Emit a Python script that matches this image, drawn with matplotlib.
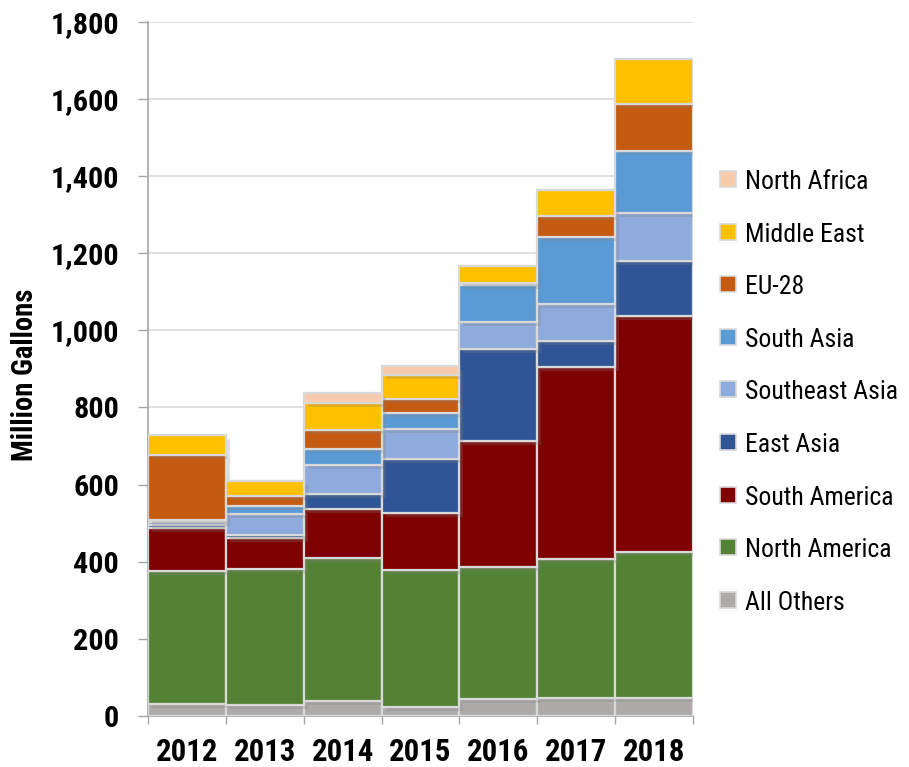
import numpy as np
import matplotlib
matplotlib.use('Agg')
import matplotlib.pyplot as plt
import matplotlib.patheffects as pe
from matplotlib import font_manager
from matplotlib.font_manager import FontProperties
from matplotlib.patches import Rectangle
from matplotlib.textpath import TextPath

years = ['2012', '2013', '2014', '2015', '2016', '2017', '2018']

# stacked from the bottom up (million gallons)
all_others = [32, 28, 39, 23, 44, 47, 46]
north_america = [344, 353, 371, 356, 342, 360, 379]
south_america = [112, 80, 127, 148, 327, 498, 612]
east_asia = [7, 8, 39, 139, 239, 68, 143]
southeast_asia = [8, 54, 75, 78, 70, 95, 124]
south_asia = [4, 22, 41, 42, 96, 174, 161]
eu_28 = [170, 26, 50, 36, 5, 55, 122]
middle_east = [52, 38, 70, 62, 44, 67, 117]
north_africa = [0, 0, 26, 24, 0, 0, 0]

series_names = ['All Others', 'North America', 'South America', 'East Asia',
                'Southeast Asia', 'South Asia', 'EU-28', 'Middle East', 'North Africa']
series_colors = ['#aeaaaa', '#548235', '#7f0000', '#2f5597',
                 '#8faadc', '#5b9bd5', '#c55a11', '#ffc000', '#f8cbad']

W, H, DPI = 909, 767, 100


def pick_narrow_font():
    names = {f.name for f in font_manager.fontManager.ttflist}
    for cand in ['Liberation Sans Narrow', 'Roboto Condensed', 'Open Sans Condensed',
                 'Noto Sans Condensed', 'DejaVu Sans Condensed', 'Roboto', 'Lato']:
        if cand in names:
            return cand
    return 'DejaVu Sans'


def fit_size(text, family, weight, target_px, base=20.0):
    # font size that makes `text` about target_px wide
    tp = TextPath((0, 0), text, size=base, prop=FontProperties(family=family, weight=weight))
    width_px = tp.get_extents().width * DPI / 72.0
    return base * target_px / width_px


def plot_stack(ax):
    series = [all_others, north_america, south_america, east_asia, southeast_asia,
              south_asia, eu_28, middle_east, north_africa]
    x = np.arange(len(years))
    bottom = np.zeros(len(years))
    shadow = [pe.SimplePatchShadow(offset=(3, -3), shadow_rgbFace='#808080', alpha=0.25),
              pe.Normal()]
    for vals, name, col in zip(series, series_names, series_colors):
        vals = np.array(vals, dtype=float)
        bars = ax.bar(x, vals, bottom=bottom, width=1.0, color=col, edgecolor='#d9d9d9',
                      linewidth=1.6, label=name, zorder=3)
        for b in bars:
            b.set_path_effects(shadow)
        bottom += vals
    return x


def style_axes(ax, x, narrow):
    ax.set_xlim(-0.5, len(years) - 0.5)
    ax.set_ylim(0, 1800)
    ys_tick = fit_size('1,000', narrow, 'bold', 65)
    ax.set_yticks(range(0, 1801, 200))
    ax.set_yticklabels([f'{v:,}' for v in range(0, 1801, 200)],
                       fontsize=ys_tick, fontweight='bold', family=narrow)
    xs = fit_size('2012', narrow, 'bold', 60)
    ax.set_xticks(x)
    ax.set_xticklabels(years, fontsize=xs, fontweight='bold', family=narrow)
    ax.set_xticks(np.arange(-0.5, len(years)), minor=True)
    ax.tick_params(axis='x', which='major', length=0, pad=15)
    ax.tick_params(axis='x', which='minor', length=6, color='#a6a6a6', width=1)
    ax.tick_params(axis='y', length=7, color='#a6a6a6', width=1, pad=14)
    ax.grid(axis='y', color='#dcdcdc', linewidth=1.2, zorder=0)
    ax.set_axisbelow(True)
    for s in ['top', 'right']:
        ax.spines[s].set_visible(False)
    for s in ['left', 'bottom']:
        ax.spines[s].set_color('#a6a6a6')
        ax.spines[s].set_linewidth(1.2)
    ys = fit_size('Million Gallons', narrow, 'bold', 170)
    ax.set_ylabel('Million Gallons', fontsize=ys, fontweight='bold', family=narrow)
    ax.yaxis.label.set_va('center')
    ax.yaxis.set_label_coords(-0.2257, 0.491)


def add_legend(fig, narrow):
    fs = fit_size('Southeast Asia', narrow, 'normal', 151)
    items = list(zip(series_names, series_colors))[::-1]
    for i, (name, col) in enumerate(items):
        base_y = 189 + i * 52.6
        fig.add_artist(Rectangle((720 / W, 1 - (base_y - 2) / H), 16 / W, 16 / H,
                                 transform=fig.transFigure, facecolor=col,
                                 edgecolor='#d9d9d9', linewidth=1.2))
        fig.text(745 / W, 1 - base_y / H, name, fontsize=fs, family=narrow,
                 ha='left', va='baseline')


def main():
    narrow = pick_narrow_font()
    fig = plt.figure(figsize=(W / DPI, H / DPI), dpi=DPI)
    ax = fig.add_axes([0.163, 0.0665, 0.599, 0.905])
    x = plot_stack(ax)
    style_axes(ax, x, narrow)
    add_legend(fig, narrow)
    fig.savefig('out.png', dpi=DPI)
    plt.close(fig)


if __name__ == '__main__':
    main()
